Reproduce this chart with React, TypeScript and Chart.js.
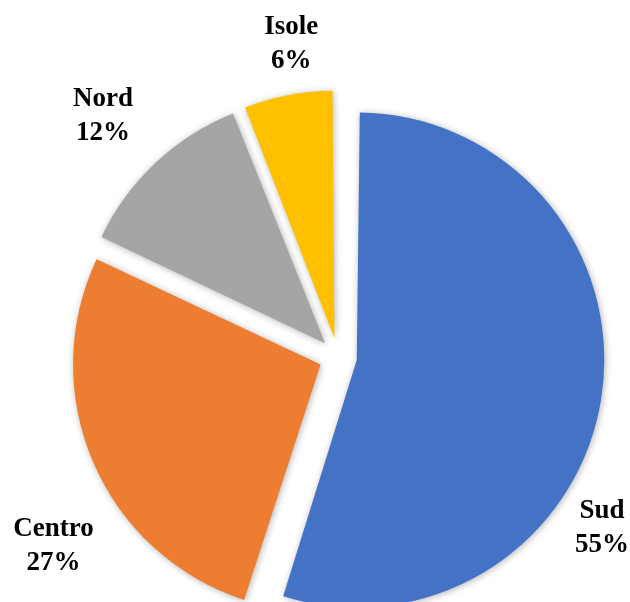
import React, { useEffect, useRef } from "react";
import { Chart, registerables } from "chart.js";

Chart.register(...registerables);

const categories = ["Sud", "Centro", "Nord", "Isole"];
const values = [55, 27, 12, 6];
const colors = ["#4472C4", "#ED7D31", "#A5A5A5", "#FFC000"];
// label placement (angle shift from slice mid-angle in degrees, distance as fraction of radius)
const labelAngleShift = [23.9, -10.2, -1.1, 2.3];
const labelDistance = [1.27, 1.38, 1.36, 1.28];

const BASE_RADIUS = 247.5;
const EXPLODE = 19; // px each slice is pulled out

// Chart.js enlarges exploded arcs; keep all slices at the same radius.
const radiusFixPlugin = {
  id: "radiusFix",
  beforeDatasetsDraw(chart: any) {
    const meta = chart.getDatasetMeta(0);
    meta.data.forEach((arc: any) => {
      const circ = arc.endAngle - arc.startAngle;
      const off = (arc.options.offset || 0) / 4;
      const fix = 1 - Math.sin(Math.min(Math.PI, circ));
      arc.outerRadius = BASE_RADIUS - off * fix;
    });
  },
};

const shadowPlugin = {
  id: "shadowPlugin",
  beforeDatasetsDraw(chart: any) {
    const ctx = chart.ctx;
    ctx.save();
    ctx.shadowColor = "rgba(0,0,0,0.3)";
    ctx.shadowBlur = 7;
    ctx.shadowOffsetX = 1;
    ctx.shadowOffsetY = 1;
  },
  afterDatasetsDraw(chart: any) {
    chart.ctx.restore();
  },
};

const labelPlugin = {
  id: "labelPlugin",
  afterDraw(chart: any) {
    const ctx = chart.ctx;
    const meta = chart.getDatasetMeta(0);
    const total = values.reduce((a, b) => a + b, 0);
    ctx.save();
    ctx.font = "bold 27px 'Liberation Serif', 'DejaVu Serif', serif";
    ctx.fillStyle = "#000000";
    ctx.textAlign = "center";
    ctx.textBaseline = "middle";
    meta.data.forEach((arc: any, i: number) => {
      const cx = chart.chartArea.left + chart.chartArea.width / 2;
      const cy = chart.chartArea.top + chart.chartArea.height / 2;
      const mid = (arc.startAngle + arc.endAngle) / 2 + (labelAngleShift[i] * Math.PI) / 180;
      const r = BASE_RADIUS * labelDistance[i];
      const x = cx + Math.cos(mid) * r;
      const y = cy + Math.sin(mid) * r;
      const pct = Math.round((values[i] / total) * 100) + "%";
      ctx.fillText(categories[i], x, y - 17);
      ctx.fillText(pct, x, y + 17);
    });
    ctx.restore();
  },
};

export default function App() {
  const ref = useRef<HTMLCanvasElement | null>(null);
  useEffect(() => {
    if (!ref.current) return;
    const chart = new Chart(ref.current, {
      type: "pie",
      data: {
        labels: categories,
        datasets: [
          {
            data: values,
            backgroundColor: colors,
            borderWidth: 0,
            offset: EXPLODE * 4,
            hoverOffset: EXPLODE * 4,
            clip: false as any,
          },
        ],
      },
      options: {
        responsive: false,
        animation: false,
        radius: BASE_RADIUS,
        events: [],
        layout: { padding: { left: 46, top: 112, right: 0, bottom: 0 } },
        plugins: {
          legend: { display: false },
          tooltip: { enabled: false },
        },
      } as any,
      plugins: [radiusFixPlugin, shadowPlugin, labelPlugin],
    });
    return () => chart.destroy();
  }, []);
  return (
    <div style={{ position: "absolute", left: 0, top: 0, width: 630, height: 602, background: "#fff" }}>
      <canvas ref={ref} width={630} height={602} style={{ width: 630, height: 602 }} />
    </div>
  );
}
